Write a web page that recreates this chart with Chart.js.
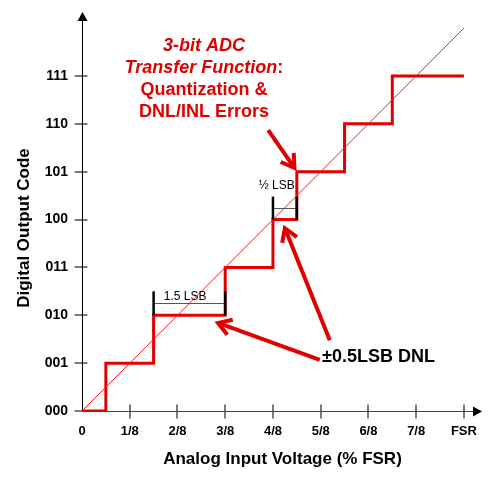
<!DOCTYPE html>
<html><head><meta charset="utf-8">
<script src="https://cdn.jsdelivr.net/npm/chart.js@4/dist/chart.umd.min.js"></script>
<style>html,body{margin:0;padding:0;background:#fff;}#wrap{width:496px;height:483px;}</style>
</head><body><div id="wrap"><canvas id="c" width="496" height="483"></canvas></div>
<script>
// ---- data ----
const xTickLabels = ['0','1/8','2/8','3/8','4/8','5/8','6/8','7/8','FSR'];
const codeLabels = ['000','001','010','011','100','101','110','111'];
// transition input levels (in LSB = 1/8 FSR) and the output code reached there
const transitionInputs = [0, 0.5, 1.5, 3, 4, 4.5, 5.5, 6.5, 8];
const outputCodes      = [0, 1,   2,   3, 4, 5,   6,   7,   7];
// ideal (infinite resolution) transfer line
const idealInputs = [0, 8];
const idealCodes  = [0, 8];

const FONT = "'Liberation Sans', Arial, Helvetica, sans-serif";
const RED = '#e00000';

// annotations (data coordinates)
const brackets = [
  {x1: 1.5, x2: 3,   yBase: 2, yTop: 2.5, yMid: 2.26, label: '1.5 LSB', labelX: 2.16, labelY: 2.38},
  {x1: 4,   x2: 4.5, yBase: 4, yTop: 4.48, yMid: 4.24, label: '\u00BD LSB', labelX: 4.08, labelY: 4.7}
];
const arrows = [
  {from: [3.9, 5.87], to: [4.45, 5.08]},
  {from: [5.19, 1.48], to: [4.25, 3.82]},
  {from: [4.98, 1.07], to: [2.85, 1.84]}
];

function line(ctx, x1, y1, x2, y2){ ctx.beginPath(); ctx.moveTo(x1,y1); ctx.lineTo(x2,y2); ctx.stroke(); }

const overlay = {
  id: 'overlay',
  beforeDatasetsDraw(chart){
    const {ctx, chartArea, scales:{x, y}} = chart;
    const x0 = Math.round(x.getPixelForValue(0)) + 0.5;
    const y0 = Math.round(y.getPixelForValue(0)) + 0.5;
    ctx.save();
    // tick marks
    ctx.strokeStyle = '#7a7a7a'; ctx.lineWidth = 2;
    codeLabels.forEach((_, i) => { const py = Math.round(y.getPixelForValue(i)); line(ctx, x0-8, py, x0+5, py); });
    xTickLabels.forEach((_, i) => { if (i === 0) return; const px = Math.round(x.getPixelForValue(i)); line(ctx, px, y0-7, px, y0+7); });
    // axes
    ctx.strokeStyle = '#000'; ctx.fillStyle = '#000'; ctx.lineWidth = 1;
    const yTip = chartArea.top + 3, xTip = chartArea.right - 1;
    line(ctx, x0, y0, x0, yTip + 8);
    ctx.strokeStyle = '#444';
    line(ctx, x0, y0, xTip - 8, y0);
    ctx.beginPath(); ctx.moveTo(x0, yTip); ctx.lineTo(x0-5, yTip+9); ctx.lineTo(x0+5, yTip+9); ctx.closePath(); ctx.fill();
    ctx.beginPath(); ctx.moveTo(xTip, y0); ctx.lineTo(xTip-9, y0-5); ctx.lineTo(xTip-9, y0+5); ctx.closePath(); ctx.fill();
    ctx.restore();
  },
  afterDatasetsDraw(chart){
    const {ctx, scales:{x, y}} = chart;
    ctx.save();
    // brackets
    brackets.forEach(b => {
      const px1 = x.getPixelForValue(b.x1), px2 = x.getPixelForValue(b.x2);
      const pb = y.getPixelForValue(b.yBase), pt = y.getPixelForValue(b.yTop), pm = Math.round(y.getPixelForValue(b.yMid)) + 0.5;
      ctx.strokeStyle = '#555'; ctx.lineWidth = 1;
      line(ctx, px1, pm, px2, pm);
      ctx.strokeStyle = '#000'; ctx.lineWidth = 2.5;
      line(ctx, px1, pb, px1, pt); line(ctx, px2, pb, px2, pt);
      ctx.fillStyle = '#000'; ctx.font = '12px ' + FONT; ctx.textAlign = 'center'; ctx.textBaseline = 'middle';
      ctx.fillText(b.label, x.getPixelForValue(b.labelX), y.getPixelForValue(b.labelY));
    });
    // arrows
    ctx.strokeStyle = RED; ctx.lineWidth = 4; ctx.lineCap = 'butt'; ctx.lineJoin = 'miter';
    arrows.forEach(a => {
      const fx = x.getPixelForValue(a.from[0]), fy = y.getPixelForValue(a.from[1]);
      const tx = x.getPixelForValue(a.to[0]), ty = y.getPixelForValue(a.to[1]);
      line(ctx, fx, fy, tx, ty);
      const ang = Math.atan2(fy - ty, fx - tx), L = 15, spread = 0.56;
      ctx.beginPath();
      ctx.moveTo(tx + L*Math.cos(ang+spread), ty + L*Math.sin(ang+spread));
      ctx.lineTo(tx, ty);
      ctx.lineTo(tx + L*Math.cos(ang-spread), ty + L*Math.sin(ang-spread));
      ctx.stroke();
    });
    // title block
    ctx.fillStyle = RED; ctx.textBaseline = 'middle'; ctx.textAlign = 'left';
    const cx = 204;
    ctx.font = 'italic bold 18px ' + FONT;
    let w = ctx.measureText('3-bit ADC').width;
    ctx.fillText('3-bit ADC', cx - w/2, 46);
    const t2a = 'Transfer Function', t2b = ':';
    ctx.font = 'italic bold 18px ' + FONT; const wa = ctx.measureText(t2a).width;
    ctx.font = 'bold 18px ' + FONT; const wb = ctx.measureText(t2b).width;
    ctx.font = 'italic bold 18px ' + FONT; ctx.fillText(t2a, cx - (wa+wb)/2, 68);
    ctx.font = 'bold 18px ' + FONT; ctx.fillText(t2b, cx - (wa+wb)/2 + wa, 68);
    ctx.textAlign = 'center';
    ctx.fillText('Quantization &', cx, 90);
    ctx.fillText('DNL/INL Errors', cx, 112);
    // DNL label
    ctx.fillStyle = '#000'; ctx.textAlign = 'left';
    ctx.fillText('\u00B10.5LSB DNL', 322, 357);
    // y-axis title
    ctx.save();
    ctx.translate(24, 228); ctx.rotate(-Math.PI/2);
    ctx.font = 'bold 17px ' + FONT; ctx.textAlign = 'center';
    ctx.fillText('Digital Output Code', 0, 0);
    ctx.restore();
    ctx.restore();
  }
};

new Chart(document.getElementById('c'), {
  type: 'line',
  data: {
    datasets: [
      {label: 'Ideal', data: idealInputs.map((v, i) => ({x: v, y: idealCodes[i]})),
       borderColor: '#ff1a1a', borderWidth: 1, pointRadius: 0, order: 1},
      {label: 'ADC output', data: transitionInputs.map((v, i) => ({x: v, y: outputCodes[i]})),
       stepped: 'before', borderColor: RED, borderWidth: 3, pointRadius: 0, borderJoinStyle: 'miter', order: 2}
    ]
  },
  options: {
    responsive: false, animation: false,
    layout: {padding: {left: 0, top: 9, right: 13, bottom: 0}},
    plugins: {legend: {display: false}, tooltip: {enabled: false}},
    scales: {
      x: {
        type: 'linear', min: 0, max: 8.4,
        afterBuildTicks: s => { s.ticks = xTickLabels.map((_, i) => ({value: i})); },
        afterFit: s => { s.height = 72; s.paddingLeft = 0; s.paddingRight = 0; },
        grid: {display: false, drawTicks: false}, border: {display: false},
        ticks: {padding: 13, autoSkip: false, maxRotation: 0, color: '#000',
                font: {family: FONT, size: 13, weight: 'bold'},
                callback: v => xTickLabels[Math.round(v)]},
        title: {display: true, text: 'Analog Input Voltage (% FSR)', color: '#000',
                font: {family: FONT, size: 17, weight: 'bold'}, padding: {top: 0, bottom: 13}}
      },
      y: {
        type: 'linear', min: 0, max: 8.4,
        afterBuildTicks: s => { s.ticks = codeLabels.map((_, i) => ({value: i})); },
        afterFit: s => { s.width = 82; s.paddingTop = 0; s.paddingBottom = 0; },
        grid: {display: false, drawTicks: false}, border: {display: false},
        ticks: {padding: 14, autoSkip: false, color: '#000',
                font: {family: FONT, size: 14, weight: 'bold'},
                callback: v => codeLabels[Math.round(v)]}
      }
    }
  },
  plugins: [overlay]
});
</script></body></html>
